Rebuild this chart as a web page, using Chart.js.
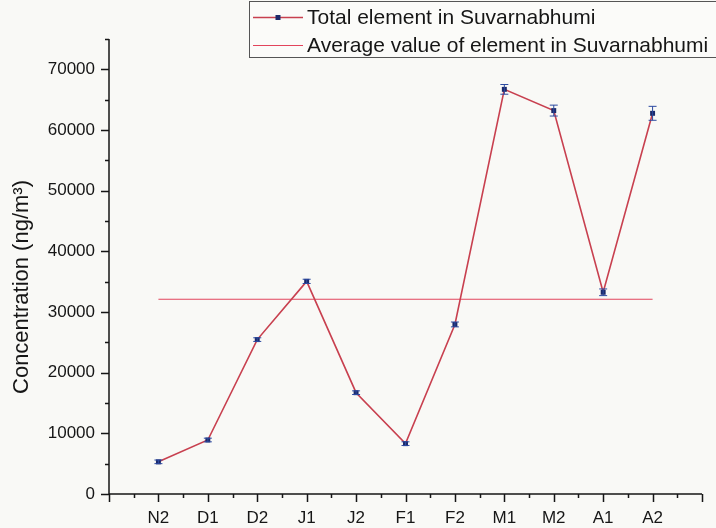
<!DOCTYPE html>
<html>
<head>
<meta charset="utf-8">
<script src="https://cdn.jsdelivr.net/npm/chart.js@4/dist/chart.umd.min.js"></script>
<style>
  body { margin: 0; background: #f9f9f6; }
  #wrap { width: 716px; height: 528px; }
</style>
</head>
<body>
<div id="wrap"><canvas id="concChart" width="716" height="528"></canvas></div>
<script>
const categories = ['N2', 'D1', 'D2', 'J1', 'J2', 'F1', 'F2', 'M1', 'M2', 'A1', 'A2'];
const totals = [5300, 8900, 25450, 35050, 16700, 8300, 27950, 66700, 63200, 33250, 62750];
const errors = [300, 300, 300, 350, 300, 300, 400, 800, 900, 550, 1150];
const average = 32100;
const yTicks = [0, 10000, 20000, 30000, 40000, 50000, 60000, 70000];
const xMin = -1, xMax = 11, yMax = 75000;

const font = 'Arial, "Liberation Sans", sans-serif';
const lineRed = '#c8404f';
const avgRed = '#e2445c';
const navy = '#1c2a6a';
const ink = '#161616';

// axes with major + minor tick marks, drawn by hand
const axesPlugin = {
  id: 'axes',
  beforeDatasetsDraw(chart) {
    const { ctx, chartArea: a, scales: { x, y } } = chart;
    ctx.save();
    ctx.strokeStyle = ink;
    ctx.lineWidth = 1.5;
    ctx.beginPath();
    ctx.moveTo(a.left, a.top); ctx.lineTo(a.left, a.bottom);
    ctx.moveTo(a.left, a.bottom); ctx.lineTo(a.right, a.bottom);
    for (let v = 0; v <= yMax; v += 5000) {
      const py = Math.round(y.getPixelForValue(v)) + 0.5;
      const len = v % 10000 === 0 ? 8 : 4;
      ctx.moveTo(a.left - len, py); ctx.lineTo(a.left, py);
    }
    for (let v = xMin; v <= xMax; v += 0.5) {
      const px = Math.round(x.getPixelForValue(v)) + 0.5;
      const len = Number.isInteger(v) ? 8 : 4;
      ctx.moveTo(px, a.bottom); ctx.lineTo(px, a.bottom + len);
    }
    ctx.stroke();

    // y axis title
    ctx.fillStyle = ink;
    ctx.font = '22px ' + font;
    ctx.textAlign = 'center';
    ctx.textBaseline = 'middle';
    ctx.translate(22, 287);
    ctx.rotate(-Math.PI / 2);
    ctx.fillText('Concentration (ng/m³)', 0, 0);
    ctx.restore();
  }
};

const errorBars = {
  id: 'errorBars',
  afterDatasetsDraw(chart) {
    const { ctx, scales: { x, y } } = chart;
    ctx.save();
    ctx.strokeStyle = '#2c4aa0';
    ctx.lineWidth = 1;
    ctx.beginPath();
    totals.forEach((v, i) => {
      const px = x.getPixelForValue(i);
      const top = y.getPixelForValue(v + errors[i]);
      const bot = y.getPixelForValue(v - errors[i]);
      ctx.moveTo(px, top); ctx.lineTo(px, bot);
      ctx.moveTo(px - 4, top); ctx.lineTo(px + 4, top);
      ctx.moveTo(px - 4, bot); ctx.lineTo(px + 4, bot);
    });
    ctx.stroke();
    ctx.restore();
  }
};

const legendBox = {
  id: 'legendBox',
  afterDraw(chart) {
    const ctx = chart.ctx;
    ctx.save();
    ctx.fillStyle = '#fbfbf9';
    ctx.fillRect(249, 1, 480, 56);
    ctx.strokeStyle = '#555';
    ctx.lineWidth = 1;
    ctx.strokeRect(249.5, 1.5, 480, 56);

    ctx.lineWidth = 1.5;
    ctx.strokeStyle = lineRed;
    ctx.beginPath(); ctx.moveTo(253, 17.5); ctx.lineTo(303, 17.5); ctx.stroke();
    ctx.fillStyle = navy;
    ctx.fillRect(275.5, 15, 5, 5);
    ctx.lineWidth = 1.2;
    ctx.strokeStyle = avgRed;
    ctx.beginPath(); ctx.moveTo(253, 45.5); ctx.lineTo(303, 45.5); ctx.stroke();

    ctx.fillStyle = ink;
    ctx.font = '21px ' + font;
    ctx.textBaseline = 'middle';
    ctx.fillText('Total element in Suvarnabhumi', 307, 18);
    ctx.fillText('Average value of element in Suvarnabhumi', 307, 46);
    ctx.restore();
  }
};

new Chart(document.getElementById('concChart'), {
  type: 'line',
  data: {
    datasets: [{
      label: 'Total element in Suvarnabhumi',
      data: totals.map((v, i) => ({ x: i, y: v })),
      borderColor: lineRed,
      borderWidth: 1.6,
      tension: 0,
      pointStyle: 'rect',
      pointRadius: 3.5,
      pointBackgroundColor: navy,
      pointBorderColor: navy,
      pointBorderWidth: 0
    }, {
      label: 'Average value of element in Suvarnabhumi',
      data: [{ x: 0, y: average }, { x: categories.length - 1, y: average }],
      borderColor: avgRed,
      borderWidth: 1.2,
      pointRadius: 0
    }]
  },
  options: {
    responsive: false,
    animation: false,
    layout: { padding: { top: 39, right: 0, bottom: 0, left: 0 } },
    plugins: { legend: { display: false }, tooltip: { enabled: false } },
    scales: {
      x: {
        type: 'linear',
        min: xMin,
        max: xMax,
        afterBuildTicks: s => { s.ticks = []; for (let v = xMin; v <= xMax; v++) s.ticks.push({ value: v }); },
        afterFit: s => { s.height = 34; },
        grid: { display: false, drawTicks: false },
        border: { display: false },
        ticks: {
          autoSkip: false,
          maxRotation: 0,
          padding: 14,
          color: ink,
          font: { family: font, size: 17 },
          callback: v => categories[v] ?? ''
        }
      },
      y: {
        min: 0,
        max: yMax,
        afterBuildTicks: s => { s.ticks = yTicks.map(v => ({ value: v })); },
        afterFit: s => { s.width = 109; },
        grid: { display: false, drawTicks: false },
        border: { display: false },
        ticks: {
          padding: 14,
          color: ink,
          font: { family: font, size: 17 },
          callback: v => String(v)
        }
      }
    }
  },
  plugins: [axesPlugin, errorBars, legendBox]
});
</script>
</body>
</html>
